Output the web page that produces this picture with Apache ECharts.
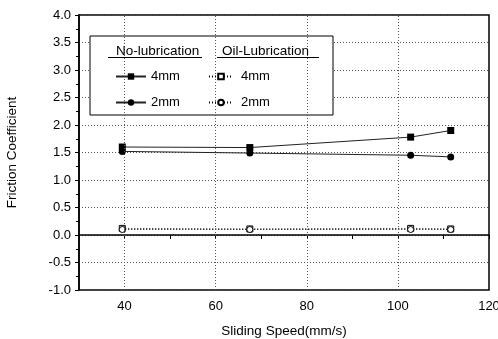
<!DOCTYPE html>
<html><head><meta charset="utf-8">
<script src="https://cdn.jsdelivr.net/npm/echarts@6/dist/echarts.min.js"></script>
<style>html,body{margin:0;padding:0;background:#fff}#c{width:498px;height:339px}</style>
</head><body><div id="c"></div>
<script>
const speeds = [39.5, 67.5, 102.8, 111.6];
const noLub4 = [1.60, 1.59, 1.78, 1.90];
const noLub2 = [1.52, 1.49, 1.45, 1.42];
const oil4 = [0.12, 0.11, 0.12, 0.11];
const oil2 = [0.10, 0.10, 0.10, 0.10];
const xGridTicks = [40, 60, 80, 100];
const xLabelTicks = [40, 60, 80, 100, 120];
const seriesNames = ['No-lub 4mm', 'No-lub 2mm', 'Oil 4mm', 'Oil 2mm'];
const legendLabels = {'No-lub 4mm':'4mm','No-lub 2mm':'2mm','Oil 4mm':'4mm','Oil 2mm':'2mm'};

const font = 'Liberation Sans, Arial, sans-serif';
const pts = arr => speeds.map((x,i)=>[x, arr[i]]);
const chart = echarts.init(document.getElementById('c'));
chart.setOption({
  animation: false,
  backgroundColor: '#fff',
  grid: {left: 79, right: 9, top: 15, bottom: 49, show: true, borderColor: '#000', borderWidth: 1.5,
         containLabel: false, outerBoundsMode: 'none'},
  xAxis: {
    type: 'value', min: 30, max: 120, interval: 10,
    name: 'Sliding Speed(mm/s)', nameLocation: 'middle', nameGap: 34,
    nameTextStyle: {fontFamily: font, fontSize: 13.5, color: '#000'},
    axisLine: {lineStyle: {color: '#000', width: 1.5}},
    axisTick: {show: true, length: 4, lineStyle: {color: '#000'}},
    axisLabel: {fontFamily: font, fontSize: 13, color: '#000', margin: 10,
      formatter: v => xLabelTicks.indexOf(v) >= 0 ? String(v) : ''},
    splitLine: {show: false}
  },
  yAxis: {
    type: 'value', min: -1, max: 4, interval: 0.5,
    name: 'Friction Coefficient', nameLocation: 'middle', nameGap: 60, nameRotate: 90,
    nameTextStyle: {fontFamily: font, fontSize: 13.5, color: '#000'},
    axisLine: {show: true, lineStyle: {color: '#000', width: 1.5}},
    axisTick: {show: true, length: 4, lineStyle: {color: '#000'}},
    minorTick: {show: true, splitNumber: 2, length: 3, lineStyle: {color: '#000'}},
    axisLabel: {fontFamily: font, fontSize: 13, color: '#000', margin: 8, formatter: v => v.toFixed(1)},
    splitLine: {show: true, lineStyle: {color: '#555', type: [1, 2], width: 1}}
  },
  legend: [
    {orient: 'vertical', left: 115, top: 70, padding: 0, z: 10, itemWidth: 30, itemHeight: 8, itemGap: 13,
     data: [seriesNames[0], seriesNames[1]], formatter: n => legendLabels[n],
     textStyle: {fontFamily: font, fontSize: 13, color: '#000'}, selectedMode: false},
    {orient: 'vertical', left: 208, top: 70, padding: 0, z: 10, itemWidth: 24, itemHeight: 7, itemGap: 13,
     data: [seriesNames[2], seriesNames[3]], formatter: n => legendLabels[n],
     textStyle: {fontFamily: font, fontSize: 13, color: '#000', padding: [0, 0, 0, 3]}, selectedMode: false}
  ],
  graphic: [
    {type: 'rect', shape: {x: 90, y: 36, width: 243, height: 79}, style: {fill: '#fff', stroke: '#000', lineWidth: 1}, z: 5},
    {type: 'text', left: 116, top: 44, style: {text: 'No-lubrication', font: '13.5px ' + font, fill: '#000'}, z: 6},
    {type: 'line', shape: {x1: 108, y1: 57.5, x2: 202, y2: 57.5}, style: {stroke: '#000', lineWidth: 1}, z: 6},
    {type: 'text', left: 222, top: 44, style: {text: 'Oil-Lubrication', font: '13.5px ' + font, fill: '#000'}, z: 6},
    {type: 'line', shape: {x1: 217, y1: 57.5, x2: 319, y2: 57.5}, style: {stroke: '#000', lineWidth: 1}, z: 6}
  ],
  series: [
    {name: seriesNames[0], type: 'line', data: pts(noLub4), symbol: 'rect', symbolSize: 7,
     itemStyle: {color: '#000'}, lineStyle: {color: '#222', width: 1},
     markLine: {silent: true, symbol: 'none', label: {show: false},
       lineStyle: {color: '#555', type: [1, 2], width: 1},
       data: xGridTicks.map(v => ({xAxis: v}))}},
    {name: seriesNames[1], type: 'line', data: pts(noLub2), symbol: 'circle', symbolSize: 7,
     itemStyle: {color: '#000'}, lineStyle: {color: '#222', width: 1}},
    {name: seriesNames[2], type: 'line', data: pts(oil4), symbol: 'rect', symbolSize: 6,
     itemStyle: {color: '#fff', borderColor: '#000', borderWidth: 1}, lineStyle: {color: '#000', width: 1, type: [1, 2]}},
    {name: seriesNames[3], type: 'line', data: pts(oil2), symbol: 'circle', symbolSize: 6,
     itemStyle: {color: '#fff', borderColor: '#000', borderWidth: 1}, lineStyle: {color: '#000', width: 1, type: [1, 2]}}
  ]
});
</script></body></html>
